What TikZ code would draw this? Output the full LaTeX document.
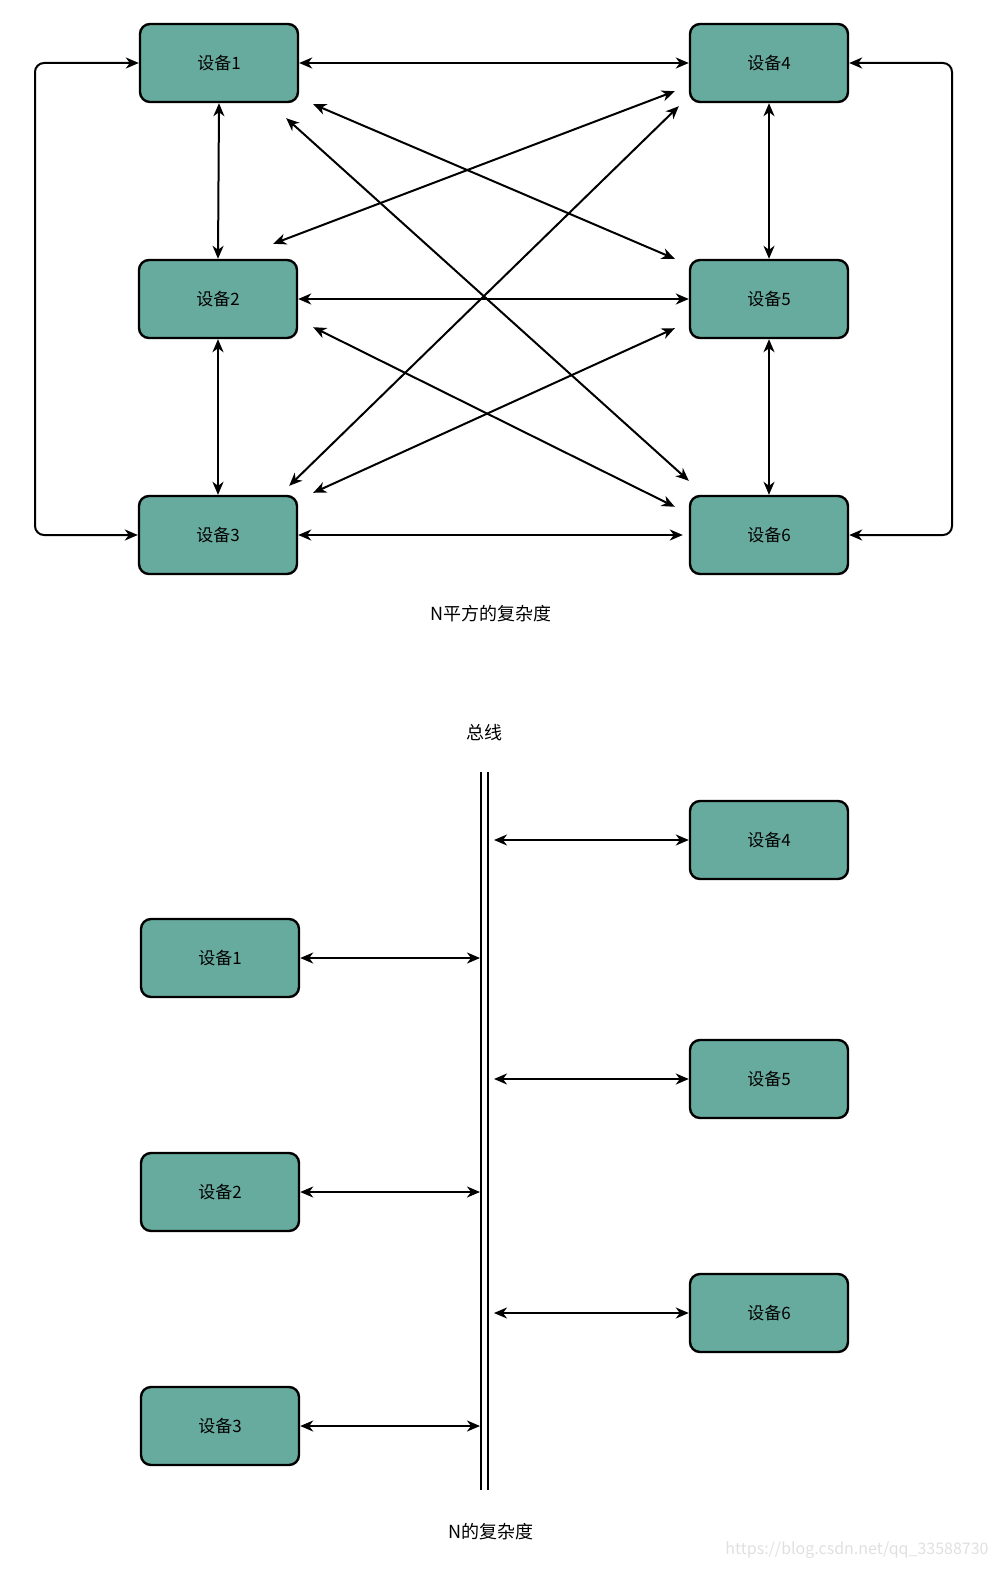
\documentclass[tikz,border=0pt]{standalone}
\usepackage{fontspec}
\setmainfont{Noto Sans CJK SC}
\usepackage{xcolor}
\usetikzlibrary{arrows.meta,calc}

\definecolor{devfill}{HTML}{67AB9F}

\tikzset{
    device/.style={draw, line width=2.4pt, fill=devfill,
        rounded corners=10pt,
        minimum width=158pt, minimum height=78pt,
        font=\fontsize{17}{19}\selectfont},
    biarrow/.style={line width=2pt,
        {Stealth[length=13pt,width=11pt,inset=4pt]}-{Stealth[length=13pt,width=11pt,inset=4pt]}},
    caption/.style={font=\fontsize{18}{20}\selectfont},
}

\begin{document}
\begin{tikzpicture}[x=1pt, y=-1pt]
    \useasboundingbox (0,0) rectangle (997,1584);

    % N squared: full mesh
    \node [device] (d1) at (219,63) {设备1};
    \node [device] (d2) at (218,299) {设备2};
    \node [device] (d3) at (218,535) {设备3};
    \node [device] (d4) at (769,63) {设备4};
    \node [device] (d5) at (769,299) {设备5};
    \node [device] (d6) at (769,535) {设备6};

    \coordinate (loopL) at (35,0);
    \coordinate (loopR) at (952,0);

    % outer loops
    \draw[biarrow, rounded corners=9pt] (d3.west) -- (d3.west -| loopL)
        -- (d1.west -| loopL) -- (d1.west);
    \draw[biarrow, rounded corners=9pt] (d6.east) -- (d6.east -| loopR)
        -- (d4.east -| loopR) -- (d4.east);

    % straight links
    \draw[biarrow] (d1.east) -- (d4.west);
    \draw[biarrow] (d2.east) -- (d5.west);
    \draw[biarrow, shorten >=6pt] (d3.east) -- (d6.west);
    \draw[biarrow] (d1.south) -- (d2.north);
    \draw[biarrow] (d2.south) -- (d3.north);
    \draw[biarrow] (d4.south) -- (d5.north);
    \draw[biarrow] (d5.south) -- (d6.north);

    % crossing links
    \draw[biarrow] ($(d1.south east)+(14,1)$) -- ($(d5.north west)+(-14,0)$);
    \draw[biarrow] ($(d1.south east)+(-13,15)$) -- ($(d6.north west)+(0,-14)$);
    \draw[biarrow] ($(d2.north east)+(-25,-15)$) -- ($(d4.south west)+(-14,-12)$);
    \draw[biarrow] ($(d3.north east)+(-9,-9)$) -- ($(d4.south west)+(-10,3)$);
    \draw[biarrow] ($(d2.south east)+(15,-12)$) -- ($(d6.north west)+(-14,12)$);
    \draw[biarrow] ($(d3.north east)+(15,-2)$) -- ($(d5.south west)+(-14,-11)$);

    \node [caption] (meshcap) at (491,614) {N平方的复杂度};

    % N: bus
    \node [caption] (buscap) at (484,733) {总线};
    \coordinate (busTop) at (484,772);
    \coordinate (busBot) at (484,1490);
    \coordinate (busL) at (480,772);
    \coordinate (busR) at (494,772);
    \draw[line width=2pt, double, double distance=5pt] (busTop) -- (busBot);

    \node [device] (b4) at (769,840) {设备4};
    \node [device] (b1) at (220,958) {设备1};
    \node [device] (b5) at (769,1079) {设备5};
    \node [device] (b2) at (220,1192) {设备2};
    \node [device] (b6) at (769,1313) {设备6};
    \node [device] (b3) at (220,1426) {设备3};

    \draw[biarrow] (b4.west -| busR) -- (b4.west);
    \draw[biarrow] (b1.east) -- (b1.east -| busL);
    \draw[biarrow] (b5.west -| busR) -- (b5.west);
    \draw[biarrow] (b2.east) -- (b2.east -| busL);
    \draw[biarrow] (b6.west -| busR) -- (b6.west);
    \draw[biarrow] (b3.east) -- (b3.east -| busL);

    \node [caption] (buscap2) at (491,1532) {N的复杂度};

    % watermark
    \node [font=\fontsize{16}{18}\selectfont, text=black!12] (mark) at (857,1550)
        {https://blog.csdn.net/qq\_33588730};
\end{tikzpicture}
\end{document}
